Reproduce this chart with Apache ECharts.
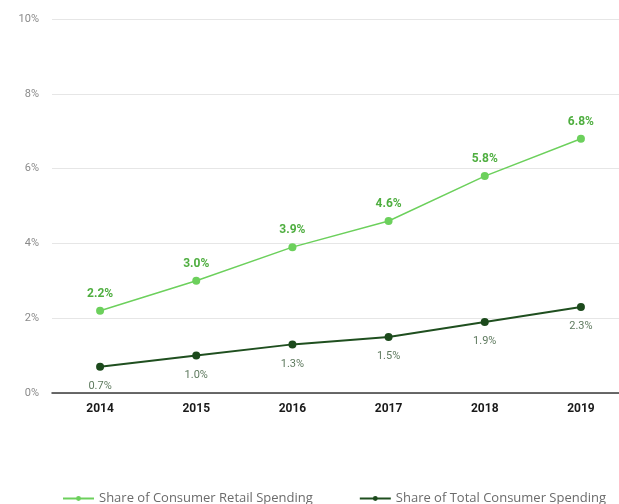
<!DOCTYPE html>
<html>
<head>
<meta charset="utf-8">
<script src="https://cdn.jsdelivr.net/npm/echarts@6/dist/echarts.min.js"></script>
<style>
  html, body { margin: 0; padding: 0; background: #fff; }
  #chart { width: 619px; height: 504px; }
</style>
</head>
<body>
<div id="chart"></div>
<script>
// Years on the category axis
const years = ['2014', '2015', '2016', '2017', '2018', '2019'];
// Share of consumer retail spending (%)
const retailShare = [2.2, 3.0, 3.9, 4.6, 5.8, 6.8];
// Share of total consumer spending (%)
const totalShare = [0.7, 1.0, 1.3, 1.5, 1.9, 2.3];
// Value-axis range and step (%)
const yMin = 0, yMax = 10, yStep = 2;

const chart = echarts.init(document.getElementById('chart'), null, { renderer: 'canvas' });

chart.setOption({
  animation: false,
  backgroundColor: '#ffffff',
  textStyle: { fontFamily: 'Roboto, "Liberation Sans", sans-serif' },
  grid: { left: 52, width: 577, top: 19, height: 374, containLabel: false, outerBoundsMode: 'none' },
  legend: {
    top: 487,
    left: 57,
    itemGap: 46,
    itemWidth: 31,
    itemHeight: 6,
    textStyle: { color: '#6b6b6b', fontSize: 13, fontFamily: '"Open Sans", sans-serif' },
    data: ['Share of Consumer Retail Spending', 'Share of Total Consumer Spending']
  },
  xAxis: {
    type: 'category',
    data: years,
    boundaryGap: true,
    axisLine: { show: true, lineStyle: { color: '#3a3a3a', width: 1.5 } },
    axisTick: { show: false },
    axisLabel: { color: '#1a1a1a', fontWeight: 'bold', fontSize: 12, margin: 10 }
  },
  yAxis: {
    type: 'value',
    min: yMin,
    max: yMax,
    interval: yStep,
    axisLine: { show: false },
    axisTick: { show: false },
    splitLine: { lineStyle: { color: '#e6e6e6', width: 1 } },
    axisLabel: { color: '#8a8a8a', fontSize: 11, margin: 13, formatter: v => v + '%' }
  },
  series: [
    {
      name: 'Share of Consumer Retail Spending',
      type: 'line',
      data: retailShare,
      symbol: 'circle',
      symbolSize: 8,
      lineStyle: { color: '#6cd05c', width: 1.5 },
      itemStyle: { color: '#6cd05c' },
      label: {
        show: true,
        position: 'top',
        distance: 7,
        color: '#4fae40',
        fontWeight: 'bold',
        fontSize: 12,
        formatter: p => p.value.toFixed(1) + '%'
      },
      z: 3
    },
    {
      name: 'Share of Total Consumer Spending',
      type: 'line',
      data: totalShare,
      symbol: 'circle',
      symbolSize: 8,
      lineStyle: { color: '#1f4f1f', width: 2 },
      itemStyle: { color: '#1c4a1c' },
      label: {
        show: true,
        position: 'bottom',
        distance: 10,
        color: '#5f7a5f',
        fontSize: 11,
        formatter: p => p.value.toFixed(1) + '%'
      },
      z: 3
    }
  ]
});
</script>
</body>
</html>
